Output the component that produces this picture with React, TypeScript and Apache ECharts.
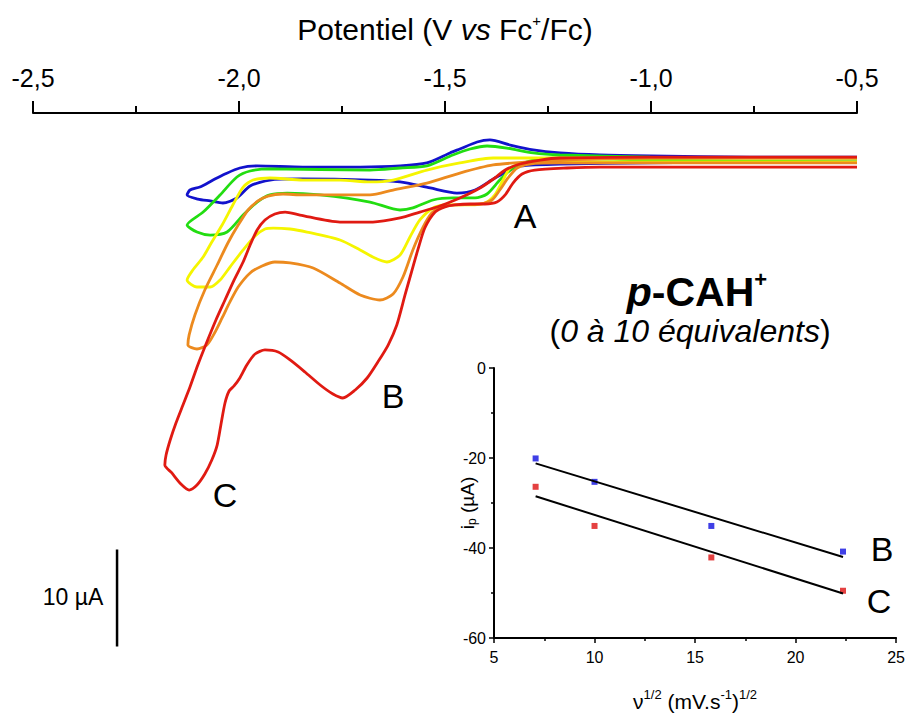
import React, { useEffect, useRef } from 'react';
import * as echarts from 'echarts';

// Main CV axis (potential in V vs Fc+/Fc, current in µA)
const potentialMin = -2.5;
const potentialMax = -0.5;
const potentialStep = 0.5;

// Cyclic voltammograms, [E (V), i (µA)] — closed loops
const blueCV: [number, number][] = [
  [-0.5, 0.46], [-0.76, 0.46], [-1.002, 0.57], [-1.124, 0.67], [-1.221, 0.88], [-1.286, 1.19], [-1.342, 1.7],
  [-1.391, 2.22], [-1.422, 2.01], [-1.464, 1.29], [-1.488, 0.88], [-1.544, -0.15], [-1.609, -0.46], [-1.706, -0.57],
  [-1.845, -0.57], [-1.956, -0.46], [-1.998, -0.67], [-2.034, -1.29], [-2.063, -1.91], [-2.095, -2.63], [-2.119, -2.94],
  [-2.126, -3.45], [-2.1, -3.87], [-2.07, -4.07], [-2.039, -4.28], [-2.005, -3.76], [-1.973, -2.53], [-1.925, -1.91],
  [-1.852, -1.8], [-1.682, -1.91], [-1.609, -2.11], [-1.536, -2.73], [-1.471, -3.25], [-1.427, -2.94], [-1.379, -1.7],
  [-1.342, -0.88], [-1.318, -0.46], [-1.221, -0.26], [-1.002, -0.15], [-0.76, -0.05], [-0.5, -0.05],
];

const greenCV: [number, number][] = [
  [-0.5, 0.36], [-1.002, 0.46], [-1.221, 0.67], [-1.286, 0.88], [-1.35, 1.39], [-1.398, 1.6], [-1.439, 1.29],
  [-1.481, 0.67], [-1.544, -0.46], [-1.609, -0.67], [-1.682, -0.88], [-1.925, -0.77], [-1.973, -0.98], [-2.005, -1.6],
  [-2.046, -3.45], [-2.087, -5.21], [-2.126, -6.55], [-2.102, -7.27], [-2.07, -7.58], [-2.029, -7.27], [-1.99, -5.52],
  [-1.956, -4.18], [-1.925, -3.45], [-1.883, -3.25], [-1.803, -3.45], [-1.682, -4.18], [-1.609, -5.0], [-1.578, -4.79],
  [-1.529, -3.97], [-1.481, -3.76], [-1.427, -3.76], [-1.398, -3.35], [-1.367, -1.91], [-1.335, -0.67], [-1.286, 0.15],
  [-1.221, 0.36], [-1.002, 0.15], [-0.5, -0.05],
];

const yellowCV: [number, number][] = [
  [-0.5, 0.36], [-1.002, 0.36], [-1.221, 0.36], [-1.301, 0.36], [-1.383, 0.36], [-1.464, -0.15], [-1.544, -0.88],
  [-1.626, -1.91], [-1.682, -2.11], [-1.755, -1.91], [-1.845, -1.91], [-1.925, -1.7], [-1.966, -1.91], [-1.99, -2.63],
  [-2.015, -4.48], [-2.041, -6.55], [-2.066, -8.3], [-2.087, -9.85], [-2.112, -11.19], [-2.126, -12.22],
  [-2.102, -12.94], [-2.07, -12.94], [-2.046, -12.22], [-2.022, -10.88], [-1.99, -9.12], [-1.961, -7.68],
  [-1.937, -6.96], [-1.917, -6.86], [-1.876, -6.96], [-1.835, -7.27], [-1.755, -8.09], [-1.706, -9.12],
  [-1.675, -9.85], [-1.641, -10.36], [-1.609, -9.64], [-1.585, -7.78], [-1.561, -6.03], [-1.529, -4.79],
  [-1.5, -4.48], [-1.439, -4.48], [-1.403, -4.28], [-1.379, -3.45], [-1.359, -1.91], [-1.342, -0.67],
  [-1.306, -0.15], [-1.221, -0.05], [-1.002, -0.05], [-0.5, -0.05],
];

const orangeCV: [number, number][] = [
  [-0.5, 0.36], [-1.002, 0.36], [-1.221, 0.15], [-1.301, -0.05], [-1.383, -0.36], [-1.464, -1.19], [-1.544, -2.22],
  [-1.626, -2.94], [-1.682, -3.45], [-1.845, -3.45], [-1.893, -3.35], [-1.93, -3.56], [-1.954, -4.07], [-1.978, -5.0],
  [-2.002, -6.55], [-2.027, -8.4], [-2.053, -10.67], [-2.083, -13.25], [-2.107, -15.82], [-2.121, -17.88],
  [-2.124, -18.92], [-2.102, -19.33], [-2.078, -18.92], [-2.058, -17.58], [-2.041, -16.13], [-2.022, -14.48],
  [-2.002, -12.94], [-1.973, -11.49], [-1.944, -10.77], [-1.913, -10.36], [-1.876, -10.46], [-1.82, -10.98],
  [-1.755, -12.53], [-1.706, -13.76], [-1.658, -14.28], [-1.626, -13.66], [-1.602, -11.91], [-1.578, -9.12],
  [-1.553, -6.75], [-1.532, -5.31], [-1.512, -4.69], [-1.476, -4.48], [-1.415, -4.38], [-1.386, -3.97],
  [-1.367, -2.94], [-1.347, -1.7], [-1.325, -0.67], [-1.294, -0.26], [-1.221, -0.15], [-1.002, -0.15], [-0.5, -0.15],
];

const redCV: [number, number][] = [
  [-0.5, -0.57], [-0.881, -0.57], [-1.124, -0.57], [-1.204, -0.67], [-1.282, -0.88], [-1.313, -1.29], [-1.335, -2.22],
  [-1.354, -3.45], [-1.374, -4.18], [-1.403, -4.38], [-1.439, -4.38], [-1.476, -4.48], [-1.5, -4.69], [-1.524, -5.21],
  [-1.549, -6.86], [-1.566, -9.12], [-1.58, -11.19], [-1.597, -13.76], [-1.617, -16.86], [-1.638, -18.92],
  [-1.663, -20.67], [-1.689, -22.32], [-1.718, -23.56], [-1.748, -24.38], [-1.772, -23.97], [-1.803, -23.04],
  [-1.84, -21.7], [-1.876, -20.46], [-1.905, -19.64], [-1.937, -19.43], [-1.961, -19.85], [-1.981, -20.98],
  [-1.998, -22.32], [-2.012, -23.14], [-2.024, -23.66], [-2.034, -24.9], [-2.044, -27.16], [-2.053, -29.23],
  [-2.066, -30.77], [-2.083, -32.22], [-2.102, -33.35], [-2.121, -33.87], [-2.141, -33.25], [-2.163, -32.11],
  [-2.18, -31.29], [-2.177, -30.26], [-2.167, -28.71], [-2.153, -26.96], [-2.136, -25.1], [-2.119, -23.25],
  [-2.1, -20.98], [-2.078, -18.61], [-2.056, -16.34], [-2.034, -14.28], [-2.012, -12.22], [-1.99, -10.36],
  [-1.973, -8.61], [-1.956, -7.06], [-1.937, -6.03], [-1.913, -5.41], [-1.888, -5.21], [-1.852, -5.52],
  [-1.755, -6.24], [-1.675, -6.24], [-1.609, -5.82], [-1.561, -5.21], [-1.519, -4.69], [-1.464, -3.76],
  [-1.415, -2.73], [-1.379, -1.7], [-1.354, -0.88], [-1.318, -0.26], [-1.269, 0.15], [-1.221, 0.36],
  [-1.002, 0.46], [-0.5, 0.46],
];

// 10 µA scale bar (in data units)
const scaleBar: [number, number][] = [[-2.296, -40], [-2.296, -50]];

// Inset: peak current vs square root of scan rate
const sqrtScanRate = [7.07, 10, 15.81, 22.36];
const peakB = [-20.1, -25.3, -35.1, -40.8];
const peakC = [-26.4, -35.1, -42.1, -49.5];
const fitB: [number, number][] = [[7.07, -21.2], [22.36, -42.0]];
const fitC: [number, number][] = [[7.07, -28.5], [22.36, -50.1]];

const FONT = '"Liberation Sans", Arial, sans-serif';

const cvSeries = (name: string, data: [number, number][], color: string) => ({
  name,
  type: 'line',
  xAxisIndex: 0,
  yAxisIndex: 0,
  data,
  symbol: 'none',
  showSymbol: false,
  smooth: 0.25,
  clip: false,
  silent: true,
  lineStyle: { color, width: 2.8 },
});

const label = (text: string, x: number, y: number, fontSize: number) => ({
  type: 'text',
  x,
  y,
  style: { text, fontSize, fontFamily: FONT, fill: '#000', align: 'center', verticalAlign: 'middle' },
});

export default function App() {
  const ref = useRef<HTMLDivElement>(null);

  useEffect(() => {
    const chart = echarts.init(ref.current!, null, { renderer: 'svg' });
    const option: any = {
      animation: false,
      backgroundColor: '#ffffff',
      textStyle: { fontFamily: FONT, color: '#000' },
      grid: [
        { left: 33, right: 51, top: 113, bottom: 66.5 },
        { left: 494, top: 368, width: 403, height: 275 },
      ],
      xAxis: [
        {
          type: 'value',
          gridIndex: 0,
          position: 'top',
          min: potentialMin,
          max: potentialMax,
          interval: potentialStep,
          axisLine: { show: true, onZero: false, lineStyle: { color: '#000', width: 2 } },
          axisTick: { show: true, length: 12, lineStyle: { color: '#000', width: 2 } },
          minorTick: { show: true, splitNumber: 2, length: 7, lineStyle: { color: '#000', width: 2 } },
          splitLine: { show: false },
          axisLabel: {
            color: '#000',
            fontSize: 25,
            fontFamily: FONT,
            margin: 23,
            formatter: (v: number) => v.toFixed(1).replace('.', ','),
          },
          name: '{n|Potentiel (V }{i|vs}{n| Fc}{s|+}{n|/Fc)}',
          nameLocation: 'middle',
          nameGap: 68,
          nameTextStyle: {
            rich: {
              n: { fontSize: 30, fontFamily: FONT, color: '#000' },
              i: { fontSize: 30, fontFamily: FONT, fontStyle: 'italic', color: '#000' },
              s: { fontSize: 15, fontFamily: FONT, color: '#000', padding: [0, 0, 17, 0] },
            },
          },
        },
        {
          type: 'value',
          gridIndex: 1,
          position: 'bottom',
          min: 5,
          max: 25,
          interval: 5,
          axisLine: { show: true, onZero: false, lineStyle: { color: '#000', width: 2 } },
          axisTick: { show: true, length: 5, lineStyle: { color: '#000', width: 1.5 } },
          minorTick: { show: true, splitNumber: 2, length: 3, lineStyle: { color: '#000', width: 1.5 } },
          splitLine: { show: false },
          axisLabel: { color: '#000', fontSize: 16, fontFamily: FONT, margin: 11 },
          name: '{n|ν}{s|1/2}{n| (mV.s}{s|-1}{n|)}{s|1/2}',
          nameLocation: 'middle',
          nameGap: 50,
          nameMoveOverlap: false,
          nameTextStyle: {
            rich: {
              n: { fontSize: 21, fontFamily: FONT, color: '#000' },
              s: { fontSize: 13, fontFamily: FONT, color: '#000', padding: [0, 0, 14, 0] },
            },
          },
        },
      ],
      yAxis: [
        {
          type: 'value',
          gridIndex: 0,
          min: -50,
          max: 5,
          show: false,
          splitLine: { show: false },
        },
        {
          type: 'value',
          gridIndex: 1,
          min: -60,
          max: 0,
          interval: 20,
          axisLine: { show: true, onZero: false, lineStyle: { color: '#000', width: 2 } },
          axisTick: { show: true, length: 5, lineStyle: { color: '#000', width: 1.5 } },
          minorTick: { show: true, splitNumber: 2, length: 3, lineStyle: { color: '#000', width: 1.5 } },
          splitLine: { show: false },
          axisLabel: { color: '#000', fontSize: 16, fontFamily: FONT, margin: 8 },
          name: '{n|i}{b|p}{n| (µA)}',
          nameLocation: 'middle',
          nameRotate: 90,
          nameGap: 16,
          nameMoveOverlap: false,
          nameTextStyle: {
            rich: {
              n: { fontSize: 19, fontFamily: FONT, color: '#000' },
              b: { fontSize: 12, fontFamily: FONT, color: '#000', padding: [10, 0, 0, 0] },
            },
          },
        },
      ],
      series: [
        cvSeries('0 éq', blueCV, '#1212cc'),
        cvSeries('2.5 éq', greenCV, '#22dd11'),
        cvSeries('5 éq', yellowCV, '#f5f500'),
        cvSeries('7.5 éq', orangeCV, '#ec8a1e'),
        cvSeries('10 éq', redCV, '#e01a12'),
        {
          name: 'scale',
          type: 'line',
          xAxisIndex: 0,
          yAxisIndex: 0,
          data: scaleBar,
          symbol: 'none',
          clip: false,
          silent: true,
          lineStyle: { color: '#000', width: 2.5 },
        },
        {
          name: 'fit B',
          type: 'line',
          xAxisIndex: 1,
          yAxisIndex: 1,
          data: fitB,
          symbol: 'none',
          silent: true,
          lineStyle: { color: '#000', width: 2 },
        },
        {
          name: 'fit C',
          type: 'line',
          xAxisIndex: 1,
          yAxisIndex: 1,
          data: fitC,
          symbol: 'none',
          silent: true,
          lineStyle: { color: '#000', width: 2 },
        },
        {
          name: 'B',
          type: 'scatter',
          xAxisIndex: 1,
          yAxisIndex: 1,
          data: sqrtScanRate.map((x, i) => [x, peakB[i]]),
          symbol: 'rect',
          symbolSize: 6,
          itemStyle: { color: '#0f0fe0' },
        },
        {
          name: 'C',
          type: 'scatter',
          xAxisIndex: 1,
          yAxisIndex: 1,
          data: sqrtScanRate.map((x, i) => [x, peakC[i]]),
          symbol: 'rect',
          symbolSize: 6,
          itemStyle: { color: '#dd1212' },
        },
      ],
      graphic: [
        label('A', 525, 216, 34),
        label('B', 393, 396, 34),
        label('C', 225, 495, 34),
        label('B', 882, 549, 34),
        label('C', 879, 601, 34),
        label('10 µA', 73, 597, 23),
        {
          type: 'text',
          x: 697,
          y: 292,
          style: {
            text: '{p|p}{b|-CAH}{s|+}',
            align: 'center',
            verticalAlign: 'middle',
            rich: {
              p: { fontSize: 41, fontFamily: FONT, fontWeight: 'bold', fontStyle: 'italic', fill: '#000' },
              b: { fontSize: 41, fontFamily: FONT, fontWeight: 'bold', fill: '#000' },
              s: { fontSize: 22, fontFamily: FONT, fontWeight: 'bold', fill: '#000', padding: [0, 0, 26, 0] },
            },
          },
        },
        {
          type: 'text',
          x: 690,
          y: 331,
          style: {
            text: '{n|(}{i|0 à 10 équivalents}{n|)}',
            align: 'center',
            verticalAlign: 'middle',
            rich: {
              n: { fontSize: 32, fontFamily: FONT, fill: '#000' },
              i: { fontSize: 32, fontFamily: FONT, fontStyle: 'italic', fill: '#000' },
            },
          },
        },
      ],
    };
    chart.setOption(option);
    return () => chart.dispose();
  }, []);

  return <div ref={ref} style={{ position: 'fixed', left: 0, top: 0, width: 908, height: 713 }} />;
}
